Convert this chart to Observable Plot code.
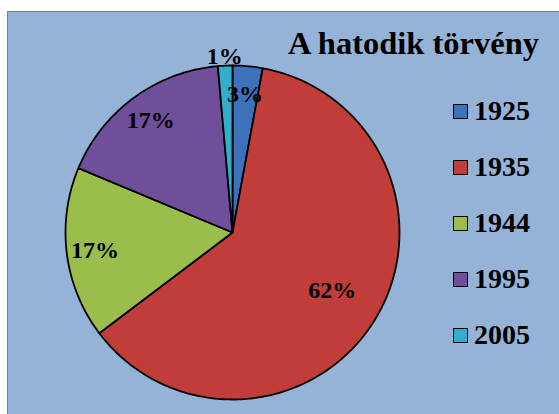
<!DOCTYPE html>
<html>
<head>
<meta charset="utf-8">
<script src="https://cdn.jsdelivr.net/npm/d3@7"></script>
<script src="https://cdn.jsdelivr.net/npm/@observablehq/plot@0.6"></script>
<style>
  html, body { margin: 0; padding: 0; background: #ffffff; }
  #page { position: relative; width: 559px; height: 414px; overflow: hidden; font-family: "Liberation Serif", "DejaVu Serif", serif; }
  #frame { position: absolute; left: 7px; top: 11px; width: 552px; height: 403px; background: #95b3d7; border-left: 1.5px solid #7f7f7f; border-top: 1.5px solid #7f7f7f; box-sizing: border-box; }
  #chart { position: absolute; left: 0; top: 0; }
  #title { position: absolute; left: 288px; top: 27px; font-size: 32.5px; line-height: 32px; font-weight: bold; color: #000; white-space: nowrap; }
  .item { position: absolute; left: 453px; height: 28px; font-size: 28px; line-height: 28px; font-weight: bold; white-space: nowrap; }
  .sw { position: absolute; left: 0; top: 7px; width: 15px; height: 15px; border: 1.5px solid #000; box-sizing: border-box; }
  .lab { position: absolute; left: 21px; top: 0; }
</style>
</head>
<body>
<div id="page">
  <div id="frame"></div>
  <div id="chart"></div>
  <div id="title">A hatodik törvény</div>
  <div id="legend"></div>
</div>
<script>
// Data
const years = ["1925", "1935", "1944", "1995", "2005"];
const shares = [2.9, 61.8, 16.6, 17.3, 1.4];           // percent
const labels = ["3%", "62%", "17%", "17%", "1%"];
const colors = ["#3d72ba", "#c13d3a", "#9bbd4b", "#6f4f99", "#34adcb"];

// Layout (pixels)
const W = 559, H = 414, CX = 232, CY = 232, R = 167;

// Build pie geometry (unit circle) from the data via d3.pie
const pie = d3.pie().sort(null).value(d => d.v)
  .startAngle(0).endAngle(2 * Math.PI)(years.map((y, i) => ({year: y, v: shares[i], label: labels[i]})));

const pts = [];
for (const s of pie) {
  pts.push({year: s.data.year, x: 0, y: 0});
  const n = Math.max(2, Math.ceil((s.endAngle - s.startAngle) / (Math.PI / 180)));
  for (let k = 0; k <= n; k++) {
    const a = s.startAngle + (s.endAngle - s.startAngle) * k / n;
    pts.push({year: s.data.year, x: Math.sin(a), y: Math.cos(a)});
  }
}
const labs = pie.map(s => {
  const v = s.data.v;
  const a = (s.startAngle + s.endAngle) / 2 + (v > 50 ? -0.03 : 0);
  const rr = v < 2 ? 1.055 : v > 50 ? 0.69 : 0.83;
  return {text: s.data.label, x: rr * Math.sin(a), y: rr * Math.cos(a)};
});

const chart = Plot.plot({
  width: W, height: H,
  margin: 0,
  style: {background: "transparent", overflow: "visible"},
  x: {domain: [-CX / R, (W - CX) / R], axis: null},
  y: {domain: [-(H - CY) / R, CY / R], axis: null},
  color: {domain: years, range: colors},
  marks: [
    Plot.line(pts, {x: "x", y: "y", z: "year", fill: "year", stroke: "#000", strokeWidth: 1.8, curve: "linear-closed", strokeLinejoin: "round"}),
    Plot.text(labs, {x: "x", y: "y", text: "text", fontSize: 24, fontWeight: "bold", fontFamily: "Liberation Serif", fill: "#000"})
  ]
});
document.getElementById("chart").appendChild(chart);

// Legend
const legend = document.getElementById("legend");
years.forEach((y, i) => {
  const item = document.createElement("div");
  item.className = "item";
  item.style.top = (97 + i * 56) + "px";
  item.innerHTML = `<div class="sw" style="background:${colors[i]}"></div><div class="lab">${y}</div>`;
  legend.appendChild(item);
});
</script>
</body>
</html>
